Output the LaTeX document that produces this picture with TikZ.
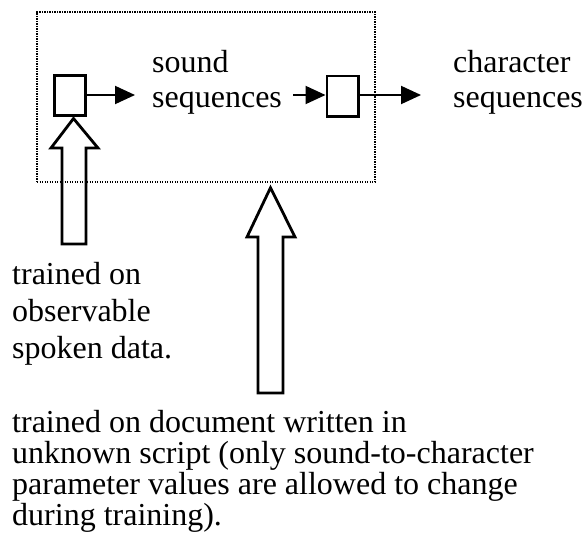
\documentclass[tikz,border=0pt]{standalone}
\usepackage{fontspec}
\setmainfont{Liberation Serif}
\usetikzlibrary{arrows.meta,calc}

\tikzset{
  unit/.style={x=1pt,y=-1pt},
  % multi-line labels are placed by the baseline of their last line
  label/.style={inner sep=0pt,anchor=base west,align=left},
  stage/.style={draw,line width=2.7pt,minimum width=31.3pt,minimum height=40.3pt,inner sep=0pt},
  flow/.style={line width=2pt,-{Triangle[length=20pt,width=18pt]}},
  hollow/.style={draw,line width=2.8pt,line join=miter,miter limit=10},
  frame/.style={draw,line width=1.4pt,dash pattern=on 1.3pt off 1.2pt,inner sep=0pt}
}

\begin{document}
\begin{tikzpicture}[unit]
  \useasboundingbox (0,0) rectangle (585,554);

  % model boundary
  \node[frame,minimum width=338pt,minimum height=170pt] (model) at (206,97) {};

  % the two stages
  \node[stage] (sbox) at (70,95.5) {};
  \node[stage] (cbox) at (342.5,96) {};

  % intermediate and output labels
  \node[label,font=\fontsize{32}{35}\selectfont] (snd) at (152,107) {sound\\sequences};
  \node[label,font=\fontsize{32}{35}\selectfont] (chr) at (453,107) {character\\sequences};

  % data flow
  \coordinate (sndin) at (135,95);
  \coordinate (sndout) at (293,95);
  \coordinate (chrin) at (421,95);
  \draw[flow] (sbox.east |- sndin) -- (sndin);
  \draw[flow] (sndout) -- (cbox.west |- sndout);
  \draw[flow] (cbox.east |- chrin) -- (chrin);

  % training input for the sound stage
  \coordinate (stip) at ($(sbox.south)+(3.5,1.5)$);
  \draw[hollow] (62,244) -- (62,148) -- (51,148) -- (stip) -- (98,148) -- (86,148) -- (86,244) -- cycle;

  % training input for the whole model
  \coordinate (mtip) at ($(model.south)+(64.5,5)$);
  \draw[hollow] (258,393) -- (258,237) -- (247,237) -- (mtip) -- (295,237) -- (283,237) -- (283,393) -- cycle;

  % captions
  \node[label,font=\fontsize{32}{37}\selectfont] (capa) at (12,358) {trained on\\observable\\spoken data.};
  \node[label,font=\fontsize{32}{31}\selectfont] (capb) at (12,525) {trained on document written in\\unknown script (only sound-to-character\\parameter values are allowed to change\\during training).};
\end{tikzpicture}
\end{document}
